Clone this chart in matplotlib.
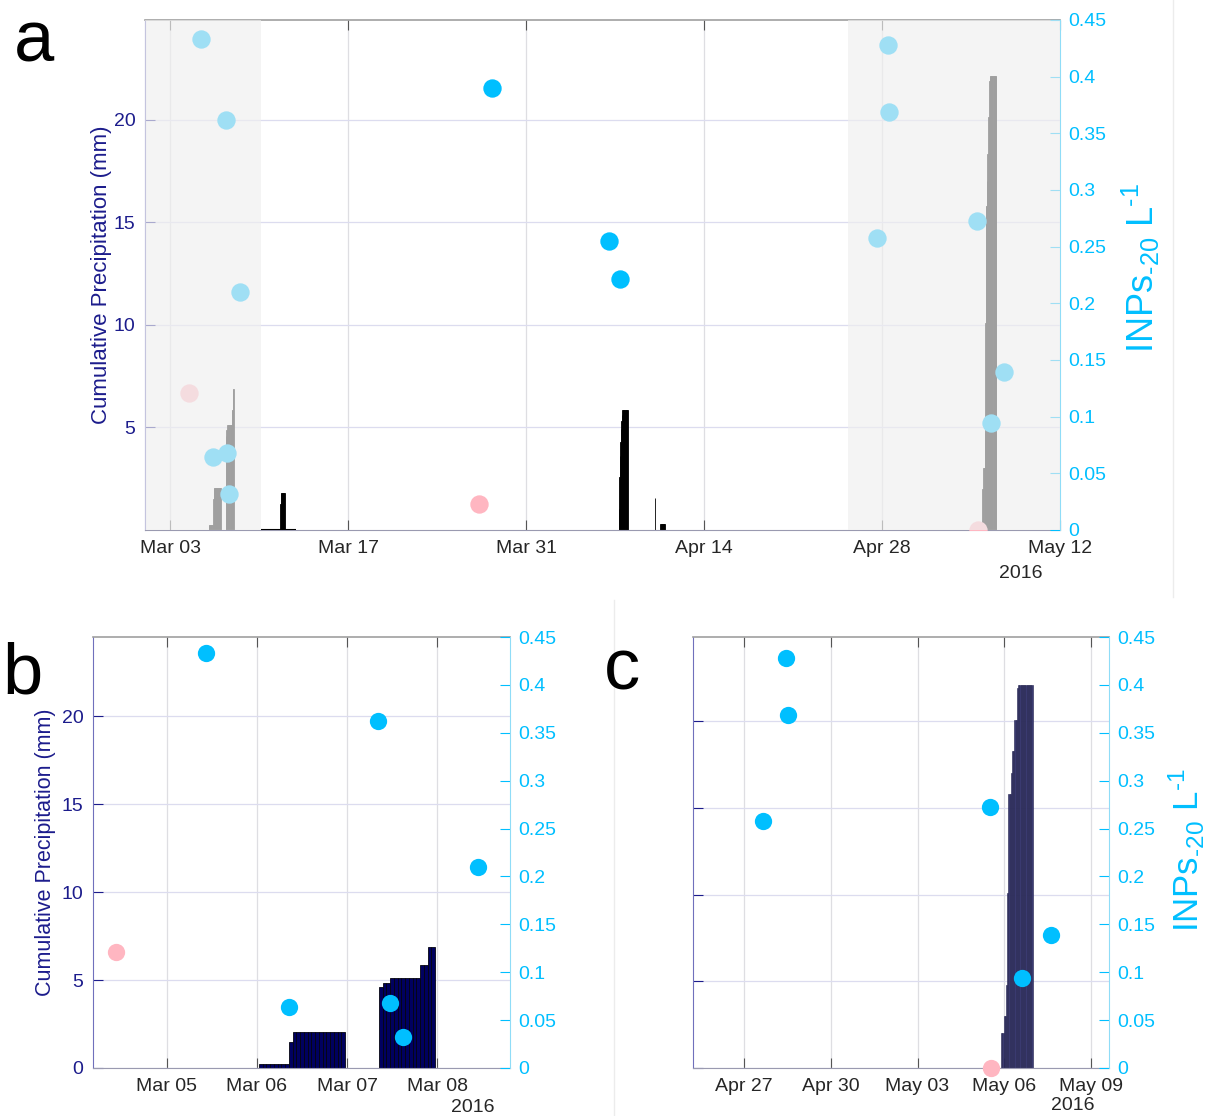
import matplotlib.pyplot as plt
import matplotlib.dates as mdates
import numpy as np
import pandas as pd
from matplotlib.lines import Line2D
from matplotlib.ticker import FuncFormatter

plt.rcParams["font.family"] = ["Liberation Sans", "DejaVu Sans"]
plt.rcParams["mathtext.fontset"] = "custom"
plt.rcParams["mathtext.rm"] = "Liberation Sans"
plt.rcParams["mathtext.default"] = "regular"

NAVY = "#1c1c8c"
SKY = "#00bfff"
PINK = "#ffb6c1"
TXT = "#262626"

# ── Data ─────────────────────────────────────────────────────────────────────

# hourly cumulative precipitation (mm); first value is the hour given as start
rain_mar06_start = "2016-03-06 01:00"
rain_mar06_mm = [0.25, 0.25, 0.25, 0.25, 0.25, 0.25, 0.25, 0.25,
                 1.5,
                 2.05, 2.05, 2.05, 2.05, 2.05, 2.05, 2.05,
                 2.05, 2.05, 2.05, 2.05, 2.05, 2.05, 2.05,
                 0.0, 0.0, 0.0, 0.0, 0.0, 0.0, 0.0, 0.0, 0.0,
                 4.6, 4.85, 4.85,
                 5.1, 5.1, 5.1, 5.1, 5.1, 5.1, 5.1, 5.1,
                 5.85, 5.85, 6.85, 6.85]

rain_mar11_start = "2016-03-11 16:00"
rain_mar11_mm = [1.27, 1.8, 1.8, 1.8, 1.8, 1.8, 1.8, 1.8]

rain_apr07_start = "2016-04-07 07:00"
rain_apr07_mm = [1.0, 2.6, 3.6, 4.3, 4.9, 5.3, 5.6,
                 5.85, 5.85, 5.85, 5.85, 5.85, 5.85, 5.85, 5.85, 5.85, 5.85]

rain_apr10_start = "2016-04-10 03:00"
rain_apr10_mm = [1.55]

rain_apr10b_start = "2016-04-10 14:00"
rain_apr10b_mm = [0.28, 0.28, 0.28, 0.28, 0.28, 0.28, 0.28, 0.28]

rain_may05_start = "2016-05-05 22:00"
rain_may05_mm = [2.0, 2.0, 3.0, 3.0, 4.8, 10.1, 15.8, 15.8, 17.0, 18.3, 18.3,
                 20.1, 20.1, 21.9,
                 22.1, 22.1, 22.1, 22.1, 22.1, 22.1, 22.1, 22.1, 22.1, 22.1, 22.1, 22.1]

rain_events = [
    (rain_mar06_start, rain_mar06_mm),
    (rain_mar11_start, rain_mar11_mm),
    (rain_apr07_start, rain_apr07_mm),
    (rain_apr10_start, rain_apr10_mm),
    (rain_apr10b_start, rain_apr10b_mm),
    (rain_may05_start, rain_may05_mm),
]

# gauge running but dry
dry_spans = [("2016-03-10 03:00", "2016-03-12 21:00")]

# INP concentrations at -20 C (per litre)
inp_time = ["2016-03-05 10:20", "2016-03-07 08:10", "2016-03-08 11:00",
            "2016-03-06 08:30", "2016-03-07 11:30", "2016-03-07 14:50",
            "2016-03-28 07:40", "2016-04-06 13:00", "2016-04-07 08:30",
            "2016-04-28 10:30", "2016-04-28 12:30", "2016-04-27 15:20",
            "2016-05-05 12:00", "2016-05-07 14:30", "2016-05-06 14:30"]
inp_value = [0.433, 0.362, 0.210,
             0.064, 0.068, 0.032,
             0.390, 0.255, 0.2215,
             0.428, 0.369, 0.2575,
             0.273, 0.139, 0.094]

blank_time = ["2016-03-04 10:30", "2016-03-27 07:20", "2016-05-05 13:10"]
blank_value = [0.121, 0.023, 0.0]

shade_spans = [("2016-03-01", "2016-03-10 03:20"),
               ("2016-04-25 06:45", "2016-05-12")]

ticks_a = ["2016-03-03", "2016-03-17", "2016-03-31", "2016-04-14", "2016-04-28", "2016-05-12"]
ticks_b = ["2016-03-05", "2016-03-06", "2016-03-07", "2016-03-08"]
ticks_c = ["2016-04-27", "2016-04-30", "2016-05-03", "2016-05-06", "2016-05-09"]

inp_ticks = [0, 0.05, 0.1, 0.15, 0.2, 0.25, 0.3, 0.35, 0.4, 0.45]

INP_LABEL = "INPs$_{\u201020}$ L$^{\u20101}$"
W, H = 1208, 1116


def dnum(values):
    return mdates.date2num(pd.to_datetime(values).to_pydatetime())


def hourly(start, n):
    return dnum(pd.date_range(start, periods=n, freq="h"))


# ── Panel builder ────────────────────────────────────────────────────────────


def make_panel(fig, box, xlim, ytop, ticks, bar_kw, dot_size, left_ticks,
               left_labels=True, dot_clip=True):
    l, t, r, b = box
    ax = fig.add_axes([l / W, 1 - b / H, (r - l) / W, (b - t) / H])
    ax2 = ax.twinx()
    x0, x1 = dnum(xlim)

    for start, vals in rain_events:
        ax.bar(hourly(start, len(vals)), vals, width=1 / 24, align="center",
               zorder=2, **bar_kw)

    ax.set_xlim(x0, x1)
    ax.set_ylim(0, ytop)
    ax.set_yticks(left_ticks)
    ax.set_xticks(dnum(ticks))
    ax.xaxis.set_major_formatter(mdates.DateFormatter("%b %d"))
    ax.set_axisbelow(True)
    ax.xaxis.grid(True, color="#dedee2", lw=0.9)
    ax.yaxis.grid(True, color="#dcdcef", lw=0.9)

    ax.tick_params(axis="x", direction="in", length=7, width=0.8, top=True,
                   color="#555555", labelsize=14, labelcolor=TXT, pad=7)
    ax.tick_params(axis="y", direction="in", length=7, width=0.8, colors=NAVY,
                   labelsize=14, pad=7, labelleft=left_labels)

    # samples inside the time window only (markers may spill over the frame)
    for times, vals, col in [(inp_time, inp_value, SKY), (blank_time, blank_value, PINK)]:
        tx = dnum(times)
        keep = (tx >= x0) & (tx <= x1)
        ax2.scatter(tx[keep], np.asarray(vals)[keep], s=dot_size, color=col, lw=0,
                    zorder=3, clip_on=dot_clip)
    ax2.set_ylim(0, 0.45)
    ax2.set_yticks(inp_ticks)
    ax2.yaxis.set_major_formatter(FuncFormatter(lambda v, _: f"{v:g}"))
    ax2.tick_params(axis="y", direction="in", length=7, width=0.8, colors=SKY,
                    labelsize=14, pad=6)

    for sp in ("left", "top", "bottom"):
        ax2.spines[sp].set_visible(False)
    ax.spines["right"].set_visible(False)
    ax2.spines["right"].set_color("#8fdcf7")
    ax.spines["left"].set_color("#7070bc")
    ax.spines["top"].set_color("#a0a0a0")
    ax.spines["bottom"].set_color("#9a9ab0")
    ax.spines["top"].set_linewidth(1.2)
    return ax, ax2


fig = plt.figure(figsize=(W / 100, H / 100), dpi=100)

# ── a: full campaign ──
ax_a, ax2_a = make_panel(
    fig, (145, 20, 1060, 530), ("2016-03-01", "2016-05-12"), 24.85, ticks_a,
    dict(color="black", edgecolor="black", linewidth=0.6), 175, [5, 10, 15, 20])
for s, e in dry_spans:
    ax_a.hlines(0, dnum(s), dnum(e), color="black", lw=1.5, zorder=3)
for s, e in shade_spans:
    ax2_a.axvspan(dnum(s), dnum(e), color="#efefef", alpha=0.67, lw=0, zorder=10)
ax_a.set_ylabel("Cumulative Precipitation (mm)", fontsize=16, color=NAVY)
ax_a.yaxis.set_label_coords(-0.036, 0.5)

# ── b: early March event ──
ax_b, ax2_b = make_panel(
    fig, (93, 637, 510, 1068), ("2016-03-04 04:20", "2016-03-08 19:25"), 24.5, ticks_b,
    dict(color="#00005f", edgecolor="#050510", linewidth=0.6), 155, [0, 5, 10, 15, 20])
ax_b.set_ylabel("Cumulative Precipitation (mm)", fontsize=15.5, color=NAVY)
ax_b.yaxis.set_label_coords(-0.088, 0.5)

# ── c: early May event ──
ax_c, ax2_c = make_panel(
    fig, (693, 637, 1109, 1068), ("2016-04-25 05:30", "2016-05-09 15:00"), 24.87, ticks_c,
    dict(color="#3a3a70", edgecolor="#22224e", linewidth=0.4), 155, [0, 5, 10, 15, 20],
    left_labels=False, dot_clip=False)

# right-axis labels and year stamps
fig.text(1141 / W, 1 - 268 / H, INP_LABEL, rotation=90, ha="center", va="center",
         fontsize=26, color=SKY)
fig.text(1187 / W, 1 - 850 / H, INP_LABEL, rotation=90, ha="center", va="center",
         fontsize=25, color=SKY)
for x, y in [(1021, 573), (473, 1107), (1073, 1106)]:
    fig.text(x / W, 1 - y / H, "2016", ha="center", va="center", fontsize=14, color=TXT)

# panel letters
for x, y, s in [(14, 62, "a"), (2, 694, "b"), (604, 690, "c")]:
    fig.text(x / W, 1 - y / H, s, ha="left", va="baseline", fontsize=52, color="black")

# faint sub-figure borders
fig.add_artist(Line2D([1173 / W, 1173 / W], [1, 1 - 597 / H], color="#ececec", lw=1))
fig.add_artist(Line2D([614 / W, 614 / W], [1 - 600 / H, 0], color="#ececec", lw=1))

fig.savefig("out.png", dpi=100)
